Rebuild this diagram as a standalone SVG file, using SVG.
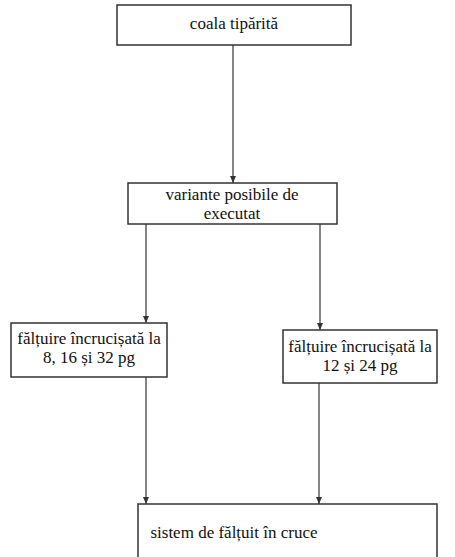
<svg xmlns="http://www.w3.org/2000/svg" width="455" height="557" viewBox="0 0 455 557">
<style>
.box{fill:#fff;stroke:#333;stroke-width:1.5}
.t{font-family:"Liberation Serif","Times New Roman",serif;font-size:17px;fill:#111;text-anchor:middle}
.c{stroke:#333;stroke-width:1.2;fill:none;marker-end:url(#ah)}
</style>
<defs>
<marker id="ah" markerWidth="8" markerHeight="8" refX="7" refY="4" orient="auto" markerUnits="userSpaceOnUse">
<path d="M0,1 L7,4 L0,7 Z" fill="#333"/>
</marker>
</defs>
<rect width="455" height="557" fill="#fff"/>
<g id="connectors">
<line class="c" x1="233" y1="45" x2="233" y2="183"/>
<line class="c" x1="146" y1="224" x2="146" y2="323"/>
<line class="c" x1="320" y1="224" x2="320" y2="330"/>
<line class="c" x1="146" y1="377" x2="146" y2="504"/>
<line class="c" x1="319" y1="383" x2="319" y2="504"/>
</g>
<g id="n1">
<rect class="box" x="117" y="5" width="234" height="40"/>
<text class="t" x="234" y="29">coala tipărită</text>
</g>
<g id="n2">
<rect class="box" x="128" y="183" width="209" height="41"/>
<text class="t" x="232" y="200">variante posibile de</text>
<text class="t" x="232" y="219">executat</text>
</g>
<g id="n3">
<rect class="box" x="11" y="323" width="156" height="54"/>
<text class="t" x="89" y="344">fălțuire încrucișată la</text>
<text class="t" x="89" y="363">8, 16 și 32 pg</text>
</g>
<g id="n4">
<rect class="box" x="283" y="330" width="154" height="53"/>
<text class="t" x="360" y="352">fălțuire încrucișată la</text>
<text class="t" x="360" y="371">12 și 24 pg</text>
</g>
<g id="n5">
<rect class="box" x="138" y="504" width="299" height="60"/>
<text class="t" x="234" y="538">sistem de fălțuit în cruce</text>
</g>
</svg>
